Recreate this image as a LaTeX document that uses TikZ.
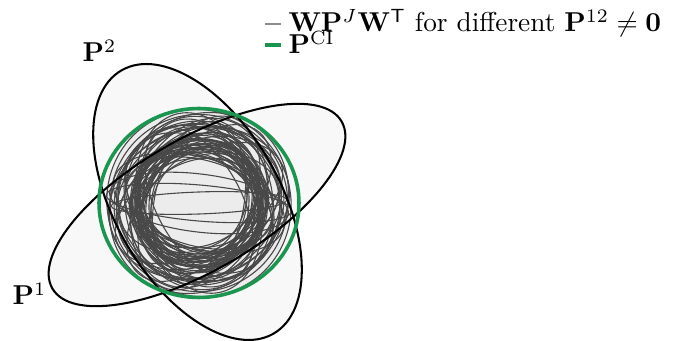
\documentclass[tikz,border=0pt]{standalone}
\usepackage{amsmath,amssymb}
\usepackage{tikz}
\usetikzlibrary{positioning}
\definecolor{cigreen}{RGB}{27,150,80}
\definecolor{ellgray}{RGB}{72,72,72}
\definecolor{ellfill}{RGB}{248,248,248}
\definecolor{corefill}{RGB}{236,236,236}

\begin{document}
\begin{tikzpicture}[x=0.3663pt,y=0.3663pt,font=\normalsize,
    every node/.style={inner sep=0pt},
    estim/.style={draw=black,line width=0.75pt},
    fused/.style={draw=ellgray,line width=0.4pt},
    cibound/.style={draw=cigreen,line width=1.3pt}]
  \useasboundingbox (0,0) rectangle (679,341);
  \coordinate (c1) at (197,136);
  \coordinate (c2) at (197.5,139);
  \coordinate (c0) at (199,138);
  % local estimates, fill only
  \fill[ellfill,rotate around={30:(c1)}] (c1) ellipse[x radius=167,y radius=66];
  \fill[ellfill,rotate around={-60:(c2)}] (c2) ellipse[x radius=152,y radius=82.5];
  % fused covariances for random cross terms
  \pgfmathsetseed{7}
  \foreach \k in {1,...,58}{
    \pgfmathsetmacro{\ea}{58+38*rnd}
    \pgfmathsetmacro{\eb}{42+(\ea-42)*rnd}
    \pgfmathsetmacro{\erot}{180*rnd}
    \fill[corefill,rotate around={\erot:(c0)}] (c0) ellipse[x radius=\ea,y radius=\eb];
  }
  \pgfmathsetseed{7}
  \foreach \k in {1,...,58}{
    \pgfmathsetmacro{\ea}{58+38*rnd}
    \pgfmathsetmacro{\eb}{42+(\ea-42)*rnd}
    \pgfmathsetmacro{\erot}{180*rnd}
    \draw[fused,rotate around={\erot:(c0)}] (c0) ellipse[x radius=\ea,y radius=\eb];
  }
  % nearly flat ones
  \foreach \ea/\eb/\erot in {93/18/-5,90/29/-7,88/11/2}{
    \draw[fused,rotate around={\erot:(c0)}] (c0) ellipse[x radius=\ea,y radius=\eb];
  }
  % outlines
  \draw[estim,rotate around={30:(c1)}] (c1) ellipse[x radius=167,y radius=66];
  \draw[estim,rotate around={-60:(c2)}] (c2) ellipse[x radius=152,y radius=82.5];
  \draw[cibound] (c0) ellipse[x radius=100,y radius=94.5];
  % labels
  \node[anchor=base west] (p1lab) at (12,36) {$\mathbf{P}^{1}$};
  \node[anchor=base west] (p2lab) at (82,279) {$\mathbf{P}^{2}$};
  % legend
  \node[anchor=base west] (legfused) at (288,309) {$\mathbf{W}\mathbf{P}^{J}\mathbf{W}^{\mathsf{T}}$ for different $\mathbf{P}^{12}\neq\mathbf{0}$};
  \node[anchor=base west] (legci) at (288,287) {$\mathbf{P}^{\mathrm{CI}}$};
  \coordinate (legfused-a) at (265,317);
  \coordinate (legfused-b) at (281,317);
  \coordinate (legci-a) at (265,296);
  \coordinate (legci-b) at (281,296);
  \draw[draw=black!45,line width=0.4pt] (legfused-a) -- (legfused-b);
  \draw[cibound] (legci-a) -- (legci-b);
\end{tikzpicture}
\end{document}
